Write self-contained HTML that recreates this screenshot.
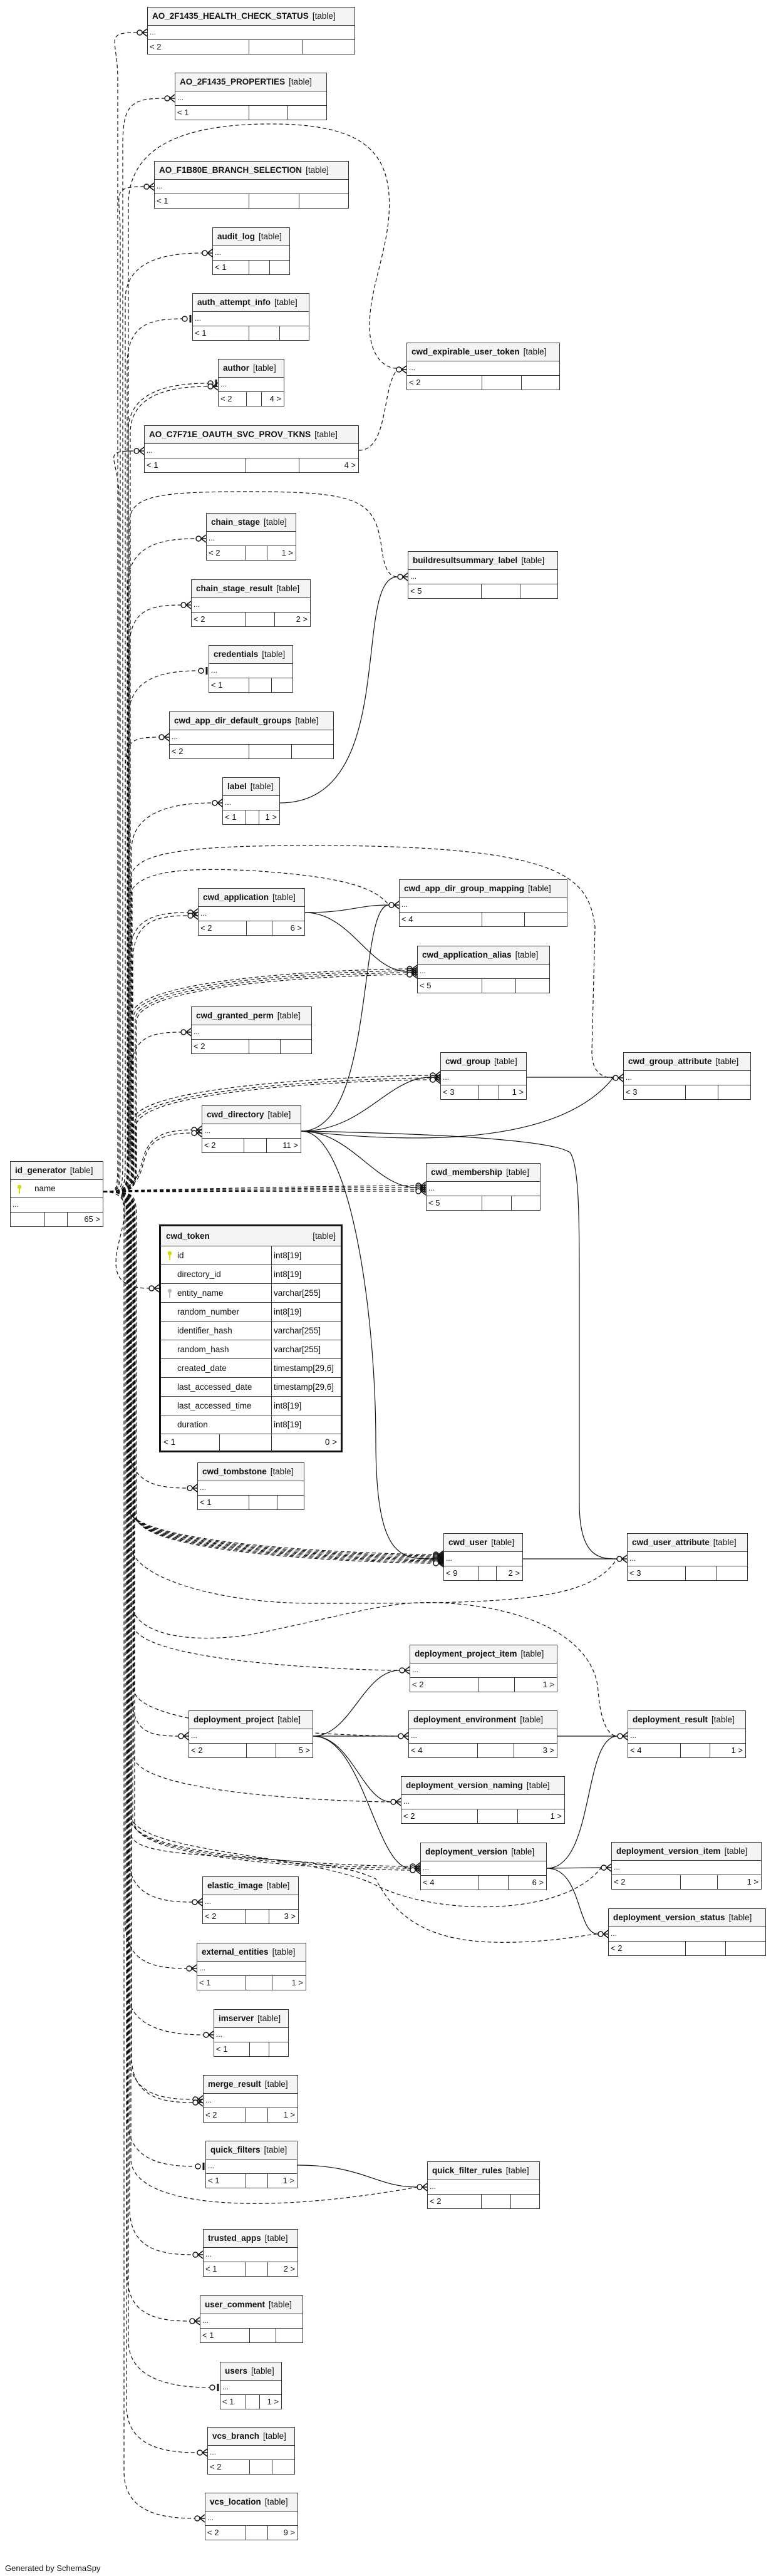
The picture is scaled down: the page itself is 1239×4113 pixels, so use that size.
<!DOCTYPE html>
<html><head><meta charset="utf-8">
<style>
html,body{margin:0;padding:0;background:#fff;}
body{width:1239px;height:4113px;position:relative;overflow:hidden;font-family:"Liberation Sans",Arial,sans-serif;color:#111;}
.t{position:absolute;box-sizing:border-box;border:1.5px solid #333;background:#fff;z-index:2;}
.h{height:28px;line-height:28px;background:#f4f4f4;border-bottom:1.5px solid #333;padding-left:7px;font-size:13.5px;white-space:nowrap;overflow:hidden;}
.h b{margin-right:6px;}
.r{height:22px;line-height:20px;border-bottom:1.5px solid #333;padding-left:3px;font-size:12px;}
.f{height:22px;display:flex;font-size:13px;line-height:22px;}
.f span{box-sizing:border-box;border-right:1.5px solid #333;padding-left:3px;white-space:nowrap;}
.f span:last-child{border-right:none;flex:1;text-align:right;padding-right:4px;}
svg.c{position:absolute;left:0;top:0;z-index:1;}
#tok{position:absolute;left:254px;top:1955px;width:293px;box-sizing:border-box;border:3px solid #111;z-index:2;background:#fff;font-size:13.5px;}
#tok .th{height:31px;line-height:31px;background:#f4f4f4;border-bottom:1.5px solid #333;padding:0 8px;display:flex;justify-content:space-between;}
#tok .tr{height:29px;line-height:29px;border-bottom:1.5px solid #333;display:flex;}
#tok .tr .n{width:177px;border-right:1.5px solid #333;padding-left:26px;box-sizing:border-box;position:relative;}
#tok .tr .y{padding-left:3px;}
#tok .tf{height:26px;line-height:26px;display:flex;}
.key{position:absolute;left:10px;top:7px;}
#idg{position:absolute;left:16px;top:1854px;width:149px;box-sizing:border-box;border:1.5px solid #333;z-index:2;background:#fff;}
#idg .h{height:28px;}
#idg .nm{height:28px;line-height:28px;border-bottom:1.5px solid #333;padding-left:38px;font-size:13.5px;position:relative;}
#gen{position:absolute;left:8px;top:4093px;font-size:13px;}
</style></head><body>

<svg class="c" width="1239" height="4113" id="cv"></svg>

<div class="t" style="left:235px;top:11px;width:332px"><div class="h"><b>AO_2F1435_HEALTH_CHECK_STATUS</b>[table]</div><div class="r">...</div><div class="f"><span style="width:162px">&lt; 2</span><span style="width:85px"></span><span></span></div></div>
<div class="t" style="left:279px;top:116px;width:243px"><div class="h"><b>AO_2F1435_PROPERTIES</b>[table]</div><div class="r">...</div><div class="f"><span style="width:118px">&lt; 1</span><span style="width:62px"></span><span></span></div></div>
<div class="t" style="left:246px;top:257px;width:311px"><div class="h"><b>AO_F1B80E_BRANCH_SELECTION</b>[table]</div><div class="r">...</div><div class="f"><span style="width:151px">&lt; 1</span><span style="width:80px"></span><span></span></div></div>
<div class="t" style="left:339px;top:363px;width:124px"><div class="h"><b>audit_log</b>[table]</div><div class="r">...</div><div class="f"><span style="width:58px">&lt; 1</span><span style="width:33px"></span><span></span></div></div>
<div class="t" style="left:307px;top:468px;width:187px"><div class="h"><b>auth_attempt_info</b>[table]</div><div class="r">...</div><div class="f"><span style="width:90px">&lt; 1</span><span style="width:49px"></span><span></span></div></div>
<div class="t" style="left:348px;top:573px;width:106px"><div class="h"><b>author</b>[table]</div><div class="r">...</div><div class="f"><span style="width:45px">&lt; 2</span><span style="width:24px"></span><span>4 &gt;</span></div></div>
<div class="t" style="left:230px;top:679px;width:343px"><div class="h"><b>AO_C7F71E_OAUTH_SVC_PROV_TKNS</b>[table]</div><div class="r">...</div><div class="f"><span style="width:162px">&lt; 1</span><span style="width:85px"></span><span>4 &gt;</span></div></div>
<div class="t" style="left:649px;top:547px;width:245px"><div class="h"><b>cwd_expirable_user_token</b>[table]</div><div class="r">...</div><div class="f"><span style="width:120px">&lt; 2</span><span style="width:63px"></span><span></span></div></div>
<div class="t" style="left:329px;top:819px;width:144px"><div class="h"><b>chain_stage</b>[table]</div><div class="r">...</div><div class="f"><span style="width:62px">&lt; 2</span><span style="width:35px"></span><span>1 &gt;</span></div></div>
<div class="t" style="left:651px;top:880px;width:240px"><div class="h"><b>buildresultsummary_label</b>[table]</div><div class="r">...</div><div class="f"><span style="width:117px">&lt; 5</span><span style="width:62px"></span><span></span></div></div>
<div class="t" style="left:305px;top:925px;width:191px"><div class="h"><b>chain_stage_result</b>[table]</div><div class="r">...</div><div class="f"><span style="width:86px">&lt; 2</span><span style="width:47px"></span><span>2 &gt;</span></div></div>
<div class="t" style="left:333px;top:1030px;width:135px"><div class="h"><b>credentials</b>[table]</div><div class="r">...</div><div class="f"><span style="width:64px">&lt; 1</span><span style="width:36px"></span><span></span></div></div>
<div class="t" style="left:270px;top:1136px;width:263px"><div class="h"><b>cwd_app_dir_default_groups</b>[table]</div><div class="r">...</div><div class="f"><span style="width:127px">&lt; 2</span><span style="width:68px"></span><span></span></div></div>
<div class="t" style="left:355px;top:1241px;width:92px"><div class="h"><b>label</b>[table]</div><div class="r">...</div><div class="f"><span style="width:37px">&lt; 1</span><span style="width:21px"></span><span>1 &gt;</span></div></div>
<div class="t" style="left:316px;top:1418px;width:171px"><div class="h"><b>cwd_application</b>[table]</div><div class="r">...</div><div class="f"><span style="width:77px">&lt; 2</span><span style="width:41px"></span><span>6 &gt;</span></div></div>
<div class="t" style="left:637px;top:1404px;width:269px"><div class="h"><b>cwd_app_dir_group_mapping</b>[table]</div><div class="r">...</div><div class="f"><span style="width:132px">&lt; 4</span><span style="width:68px"></span><span></span></div></div>
<div class="t" style="left:666px;top:1510px;width:212px"><div class="h"><b>cwd_application_alias</b>[table]</div><div class="r">...</div><div class="f"><span style="width:103px">&lt; 5</span><span style="width:54px"></span><span></span></div></div>
<div class="t" style="left:305px;top:1607px;width:193px"><div class="h"><b>cwd_granted_perm</b>[table]</div><div class="r">...</div><div class="f"><span style="width:92px">&lt; 2</span><span style="width:50px"></span><span></span></div></div>
<div class="t" style="left:703px;top:1680px;width:138px"><div class="h"><b>cwd_group</b>[table]</div><div class="r">...</div><div class="f"><span style="width:60px">&lt; 3</span><span style="width:33px"></span><span>1 &gt;</span></div></div>
<div class="t" style="left:995px;top:1680px;width:204px"><div class="h"><b>cwd_group_attribute</b>[table]</div><div class="r">...</div><div class="f"><span style="width:99px">&lt; 3</span><span style="width:52px"></span><span></span></div></div>
<div class="t" style="left:322px;top:1765px;width:159px"><div class="h"><b>cwd_directory</b>[table]</div><div class="r">...</div><div class="f"><span style="width:67px">&lt; 2</span><span style="width:36px"></span><span>11 &gt;</span></div></div>
<div class="t" style="left:680px;top:1857px;width:183px"><div class="h"><b>cwd_membership</b>[table]</div><div class="r">...</div><div class="f"><span style="width:89px">&lt; 5</span><span style="width:47px"></span><span></span></div></div>
<div class="t" style="left:315px;top:2335px;width:171px"><div class="h"><b>cwd_tombstone</b>[table]</div><div class="r">...</div><div class="f"><span style="width:82px">&lt; 1</span><span style="width:45px"></span><span></span></div></div>
<div class="t" style="left:708px;top:2448px;width:127px"><div class="h"><b>cwd_user</b>[table]</div><div class="r">...</div><div class="f"><span style="width:55px">&lt; 9</span><span style="width:29px"></span><span>2 &gt;</span></div></div>
<div class="t" style="left:1001px;top:2448px;width:193px"><div class="h"><b>cwd_user_attribute</b>[table]</div><div class="r">...</div><div class="f"><span style="width:93px">&lt; 3</span><span style="width:49px"></span><span></span></div></div>
<div class="t" style="left:654px;top:2626px;width:236px"><div class="h"><b>deployment_project_item</b>[table]</div><div class="r">...</div><div class="f"><span style="width:109px">&lt; 2</span><span style="width:58px"></span><span>1 &gt;</span></div></div>
<div class="t" style="left:301px;top:2731px;width:199px"><div class="h"><b>deployment_project</b>[table]</div><div class="r">...</div><div class="f"><span style="width:92px">&lt; 2</span><span style="width:47px"></span><span>5 &gt;</span></div></div>
<div class="t" style="left:652px;top:2731px;width:238px"><div class="h"><b>deployment_environment</b>[table]</div><div class="r">...</div><div class="f"><span style="width:110px">&lt; 4</span><span style="width:58px"></span><span>3 &gt;</span></div></div>
<div class="t" style="left:1002px;top:2731px;width:189px"><div class="h"><b>deployment_result</b>[table]</div><div class="r">...</div><div class="f"><span style="width:84px">&lt; 4</span><span style="width:47px"></span><span>1 &gt;</span></div></div>
<div class="t" style="left:640px;top:2836px;width:262px"><div class="h"><b>deployment_version_naming</b>[table]</div><div class="r">...</div><div class="f"><span style="width:122px">&lt; 2</span><span style="width:64px"></span><span>1 &gt;</span></div></div>
<div class="t" style="left:671px;top:2942px;width:202px"><div class="h"><b>deployment_version</b>[table]</div><div class="r">...</div><div class="f"><span style="width:92px">&lt; 4</span><span style="width:48px"></span><span>6 &gt;</span></div></div>
<div class="t" style="left:976px;top:2941px;width:240px"><div class="h"><b>deployment_version_item</b>[table]</div><div class="r">...</div><div class="f"><span style="width:110px">&lt; 2</span><span style="width:59px"></span><span>1 &gt;</span></div></div>
<div class="t" style="left:971px;top:3047px;width:252px"><div class="h"><b>deployment_version_status</b>[table]</div><div class="r">...</div><div class="f"><span style="width:123px">&lt; 2</span><span style="width:64px"></span><span></span></div></div>
<div class="t" style="left:323px;top:2996px;width:154px"><div class="h"><b>elastic_image</b>[table]</div><div class="r">...</div><div class="f"><span style="width:68px">&lt; 2</span><span style="width:38px"></span><span>3 &gt;</span></div></div>
<div class="t" style="left:314px;top:3102px;width:175px"><div class="h"><b>external_entities</b>[table]</div><div class="r">...</div><div class="f"><span style="width:78px">&lt; 1</span><span style="width:42px"></span><span>1 &gt;</span></div></div>
<div class="t" style="left:341px;top:3208px;width:120px"><div class="h"><b>imserver</b>[table]</div><div class="r">...</div><div class="f"><span style="width:57px">&lt; 1</span><span style="width:31px"></span><span></span></div></div>
<div class="t" style="left:324px;top:3313px;width:152px"><div class="h"><b>merge_result</b>[table]</div><div class="r">...</div><div class="f"><span style="width:67px">&lt; 2</span><span style="width:36px"></span><span>1 &gt;</span></div></div>
<div class="t" style="left:328px;top:3418px;width:147px"><div class="h"><b>quick_filters</b>[table]</div><div class="r">...</div><div class="f"><span style="width:64px">&lt; 1</span><span style="width:35px"></span><span>1 &gt;</span></div></div>
<div class="t" style="left:682px;top:3451px;width:180px"><div class="h"><b>quick_filter_rules</b>[table]</div><div class="r">...</div><div class="f"><span style="width:86px">&lt; 2</span><span style="width:47px"></span><span></span></div></div>
<div class="t" style="left:324px;top:3559px;width:152px"><div class="h"><b>trusted_apps</b>[table]</div><div class="r">...</div><div class="f"><span style="width:67px">&lt; 1</span><span style="width:36px"></span><span>2 &gt;</span></div></div>
<div class="t" style="left:319px;top:3665px;width:165px"><div class="h"><b>user_comment</b>[table]</div><div class="r">...</div><div class="f"><span style="width:79px">&lt; 1</span><span style="width:42px"></span><span></span></div></div>
<div class="t" style="left:351px;top:3771px;width:99px"><div class="h"><b>users</b>[table]</div><div class="r">...</div><div class="f"><span style="width:41px">&lt; 1</span><span style="width:22px"></span><span>1 &gt;</span></div></div>
<div class="t" style="left:331px;top:3875px;width:140px"><div class="h"><b>vcs_branch</b>[table]</div><div class="r">...</div><div class="f"><span style="width:67px">&lt; 2</span><span style="width:36px"></span><span></span></div></div>
<div class="t" style="left:327px;top:3980px;width:149px"><div class="h"><b>vcs_location</b>[table]</div><div class="r">...</div><div class="f"><span style="width:65px">&lt; 2</span><span style="width:35px"></span><span>9 &gt;</span></div></div>

<div id="idg"><div class="h"><b>id_generator</b>[table]</div>
<div class="nm"><svg class="key" width="8" height="16" viewBox="0 0 8 16"><circle cx="4" cy="4" r="3.2" fill="#d8d800"/><rect x="3" y="6" width="2" height="9" fill="#d8d800"/></svg>name</div>
<div class="r">...</div><div class="f"><span style="width:55px"></span><span style="width:36px"></span><span>65 &gt;</span></div></div>

<div id="tok">
<div class="th"><b>cwd_token</b><span>[table]</span></div>
<div class="tr"><div class="n"><svg class="key" width="8" height="16" viewBox="0 0 8 16"><circle cx="4" cy="4" r="3.2" fill="#d8d800"/><rect x="3" y="6" width="2" height="9" fill="#d8d800"/></svg>id</div><div class="y">int8[19]</div></div>
<div class="tr"><div class="n">directory_id</div><div class="y">int8[19]</div></div>
<div class="tr"><div class="n"><svg class="key" width="8" height="16" viewBox="0 0 8 16"><circle cx="4" cy="4" r="3.2" fill="#bbb"/><rect x="3" y="6" width="2" height="9" fill="#bbb"/></svg>entity_name</div><div class="y">varchar[255]</div></div>
<div class="tr"><div class="n">random_number</div><div class="y">int8[19]</div></div>
<div class="tr"><div class="n">identifier_hash</div><div class="y">varchar[255]</div></div>
<div class="tr"><div class="n">random_hash</div><div class="y">varchar[255]</div></div>
<div class="tr"><div class="n">created_date</div><div class="y">timestamp[29,6]</div></div>
<div class="tr"><div class="n">last_accessed_date</div><div class="y">timestamp[29,6]</div></div>
<div class="tr"><div class="n">last_accessed_time</div><div class="y">int8[19]</div></div>
<div class="tr"><div class="n">duration</div><div class="y">int8[19]</div></div>
<div class="tf"><span style="width:94px;border-right:1.5px solid #333;padding-left:4px;box-sizing:border-box">&lt; 1</span><span style="width:83px;border-right:1.5px solid #333;box-sizing:border-box"></span><span style="flex:1;text-align:right;padding-right:6px">0 &gt;</span></div>
</div>

<div id="gen">Generated by SchemaSpy</div>

<script>
(function(){
var svg=document.getElementById('cv'),out='';
var D='fill="none" stroke="#111" stroke-width="1.2" stroke-dasharray="6,4"';
var S='fill="none" stroke="#111" stroke-width="1.2"';
function mk(tx,ty,t){
  var s='<circle cx="'+(tx-12)+'" cy="'+ty+'" r="4" fill="#fff" stroke="#111" stroke-width="1.4"/>';
  if(t==='b'){s+='<line x1="'+(tx-3)+'" y1="'+(ty-6)+'" x2="'+(tx-3)+'" y2="'+(ty+6)+'" stroke="#111" stroke-width="3"/>';}
  else{s+='<path d="M'+(tx-8)+' '+ty+' L'+tx+' '+(ty-6)+' M'+(tx-8)+' '+ty+' L'+tx+' '+ty+' M'+(tx-8)+' '+ty+' L'+tx+' '+(ty+6)+'" stroke="#111" stroke-width="1.6" fill="none"/>';}
  return s;
}
function gp(tx,ty,bx){
  var sy=1903;
  if(Math.abs(ty-sy)<170) return 'M165 '+sy+' C '+(bx+60)+' '+sy+', '+(tx-140)+' '+ty+', '+(tx-16)+' '+ty;
  var s=ty<sy?-1:1;
  return 'M165 '+sy+' C '+bx+' '+sy+', '+bx+' '+sy+', '+bx+' '+(sy+s*60)+' L '+bx+' '+(ty-s*75)+' C '+bx+' '+(ty-s*10)+', '+(tx-70)+' '+ty+', '+(tx-16)+' '+ty;
}
var G=[[235,52,188,'c'],[279,157,196,'c'],[246,298,192,'c'],[339,404,200,'c'],[307,509,203,'b'],[348,612,205,'b'],[348,617,208,'c'],[230,720,190,'c'],[329,860,204,'c'],[305,966,206,'c'],[333,1071,205,'b'],[270,1177,200,'c'],[355,1282,210,'c'],[316,1457,206,'c'],[316,1462,212,'c'],[305,1648,208,'c'],[322,1804,207,'c'],[322,1809,212,'c'],[254,2057,200,'c'],[315,2376,205,'c'],[323,3037,205,'c'],[314,3143,200,'c'],[341,3249,203,'c'],[324,3352,206,'c'],[324,3357,210,'c'],[328,3459,204,'b'],[324,3600,207,'c'],[319,3706,203,'c'],[351,3812,205,'b'],[331,3916,202,'c'],[327,4021,198,'c'],
[666,1547,210,'c'],[666,1550,213,'c'],[666,1553,216,'c'],[666,1556,218,'c'],
[703,1717,211,'c'],[703,1721,214,'c'],[703,1724,217,'c'],
[680,1893,0,'c'],[680,1896,0,'c'],[680,1899,0,'c'],[680,1902,0,'c'],
[708,2482,204,'c'],[708,2484,206,'c'],[708,2486,208,'c'],[708,2488,210,'c'],[708,2490,212,'c'],[708,2492,214,'c'],[708,2494,216,'c'],[708,2496,218,'c'],
[654,2667,212,'c'],[652,2772,214,'c'],[640,2877,213,'c'],[301,2772,210,'c'],[671,2980,209,'c'],[671,2983,212,'c'],[671,2986,215,'c']];
G.forEach(function(g){out+='<path d="'+gp(g[0],g[1],g[2])+'" '+D+'/>';out+=mk(g[0],g[1],g[3]);});
var big=[
['M205 1850 L205 320 C210 230, 300 200, 420 198 C 560 196, 610 230, 620 300 C 630 380, 590 450, 590 520 C 590 570, 615 588, 633 588',649,590],
['M573 719 C 620 719, 610 620, 633 592',0,0],
['M207 1850 L207 830 C 210 790, 260 785, 400 785 C 580 785, 600 800, 610 880 C 615 915, 625 921, 635 921',651,921],
['M209 1850 L209 1400 C 215 1360, 300 1350, 500 1350 C 900 1350, 940 1400, 950 1480 L 945 1680 C 945 1715, 965 1721, 979 1721',995,1721],
['M211 1850 L211 1420 C 230 1390, 300 1385, 400 1390 C 560 1400, 600 1420, 621 1445',637,1445],
['M209 1960 L209 2560 C 215 2610, 300 2625, 400 2610 C 550 2580, 620 2555, 700 2559 C 850 2565, 950 2620, 955 2700 C 960 2760, 975 2772, 986 2772',1002,2772],
['M209 1960 L209 2470 C 215 2520, 350 2560, 500 2560 C 800 2560, 940 2560, 985 2489',1001,2489],
['M209 1960 L209 2900 C 220 2960, 500 2960, 600 3010 C 700 3060, 900 3060, 960 2982',976,2982],
['M209 1960 L209 2930 C 220 2980, 500 2950, 600 3000 C 650 3100, 750 3105, 850 3100 C 920 3095, 940 3088, 955 3088',971,3088],
['M209 1960 L209 3450 C 215 3520, 400 3540, 666 3492',682,3492]];
big.forEach(function(b){out+='<path d="'+b[0]+'" '+D+'/>';if(b[1])out+=mk(b[1],b[2],'c');});
var sol=[
['M447 1282 C 640 1282, 560 921, 635 921'],
['M487 1457 C 560 1457, 570 1445, 621 1445'],
['M487 1457 C 560 1457, 590 1551, 650 1551'],
['M481 1806 C 600 1806, 570 1445, 621 1445'],
['M481 1806 C 580 1806, 620 1720, 687 1720'],
['M481 1806 C 700 1830, 900 1820, 979 1721'],
['M481 1806 C 560 1806, 600 1896, 664 1896'],
['M481 1806 C 560 1806, 600 2100, 600 2300 C 600 2489, 640 2489, 692 2489'],
['M481 1806 C 700 1810, 880 1820, 910 1840 C 925 1860, 925 1950, 925 2050 L 925 2400 C 925 2489, 960 2489, 985 2489'],
['M841 1720 L 979 1720'],
['M835 2489 L 985 2489'],
['M500 2772 C 560 2772, 580 2667, 638 2667'],
['M500 2772 L 636 2772'],
['M500 2772 C 560 2772, 580 2877, 624 2877'],
['M500 2772 C 580 2772, 600 2983, 655 2983'],
['M890 2772 L 986 2772'],
['M873 2983 C 950 2983, 930 2772, 986 2772'],
['M873 2983 L 960 2982'],
['M873 2983 C 930 2983, 920 3088, 955 3088'],
['M475 3457 C 580 3457, 600 3492, 666 3492']];
sol.forEach(function(b){out+='<path d="'+b[0]+'" '+S+'/>';});
svg.innerHTML=out;
})();
</script>
</body></html>
